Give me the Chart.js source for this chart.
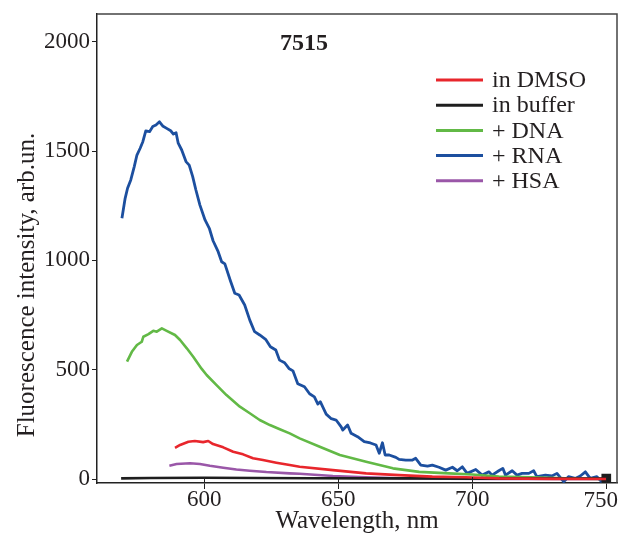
<!DOCTYPE html>
<html>
<head>
<meta charset="utf-8">
<script src="https://cdn.jsdelivr.net/npm/chart.js@4.4.1/dist/chart.umd.min.js"></script>
<style>
html,body{margin:0;padding:0;background:#fff;}
canvas{display:block;}
</style>
</head>
<body>
<canvas id="c" width="618" height="534"></canvas>
<script>
// ---- data ----
const chartTitle = "7515";
const xTitle = "Wavelength, nm";
const yTitle = "Fluorescence intensity, arb.un.";
const xTicks = [600, 650, 700, 750];
const yTicks = [0, 500, 1000, 1500, 2000];
const seriesNames = ["in DMSO", "in buffer", "+ DNA", "+ RNA", "+ HSA"];

const dmsoWl = [589.1,591.0,594.1,596.5,599.6,601.5,603.3,607.1,610.8,614.5,618.2,621.9,626.9,631.9,635.6,648,660.4,672.7,685.1,697.5,710,730,750];
const dmsoVal = [143,156,171,174,169,174,160,145,125,113,95,87,75,64,56,41,26,18,11,8,3,1,0];

const bufferWl = [569,580,600,620,640,660,680,700,720,740,750];
const bufferVal = [3,5,6,5,4,3,3,2,2,2,2];

const dnaWl = [571.2,573.0,574.9,576.7,577.3,579.2,581.0,582.3,584.2,586.0,589.1,591.0,593.5,595.9,599.0,600.9,604.6,608.3,613.3,617.0,620.7,624.5,628.2,631.9,635.6,643.1,650.6,660.4,670.4,680.2,691.3,700,709.9,722,734.7,749.6];
const dnaVal = [537,582,613,628,651,663,678,674,689,678,659,636,598,559,505,476,430,384,331,301,270,247,228,209,186,148,110,79,49,33,26,21,11,8,3,0];

const rnaWl = [569.3,570.5,571.4,572.6,573.9,574.9,576.1,577.1,578.2,579.6,580.8,582.0,583.3,584.5,586.0,587.5,588.5,589.5,590.3,591.6,593.2,594.4,595.7,596.9,598.4,600.3,601.9,603.3,605.2,606.5,607.7,609.8,611.4,613.0,615.1,617.0,618.8,620.7,622.9,624.7,626.7,628.1,630.0,631.6,633.1,634.9,637.4,639.3,641.1,642.4,643.3,645.5,647.4,649.2,651.1,651.7,653.5,654.8,657.2,659.7,662,664.1,665.3,666.5,667.5,669.0,671.5,672.7,675.2,677.7,678.9,680.8,683.3,685.1,687.6,690.1,692.6,694.4,696.3,698.1,701.3,703.7,706.2,707.4,709.9,711.4,712.4,714.9,716.7,718.6,721.1,722.9,724.1,727.3,729.7,731.6,734.1,735.9,738.4,740.3,742.2,744.0,746.5,748.3,750.2];
const rnaVal = [1193,1284,1330,1368,1429,1482,1513,1543,1592,1589,1612,1619,1634,1615,1604,1593,1578,1584,1536,1505,1452,1436,1383,1322,1253,1185,1147,1090,1040,994,984,906,850,842,796,727,674,659,639,605,590,544,532,506,495,436,422,390,376,343,354,297,276,270,239,224,247,209,194,171,165,156,118,166,110,110,99,90,87,87,95,64,59,64,54,41,54,38,56,26,44,18,33,18,38,49,18,38,18,26,26,38,11,18,14,26,-12,11,3,14,33,3,11,-12,14];

const hsaWl = [587.0,589.7,594.7,598.4,602.1,607.1,612.0,617,623.2,631.9,635.6,648,660.4,672.7,690,710,730,750];
const hsaVal = [61,69,72,69,61,52,44,38,32,26,24,14,8,4,2,1,0,0];

const colors = ["#e8262c", "#1e1e1e", "#62b946", "#1c4f9f", "#9a57a8"];

function pts(wl, val){ return wl.map((w,i)=>({x:w, y:val[i]})); }

const serif = "'Liberation Serif', 'DejaVu Serif', serif";
const txt = "#231f20";
const lastX = xTicks[xTicks.length - 1];

const decor = {
  id: 'decor',
  afterDraw(chart){
    const ctx = chart.ctx;
    const a = chart.chartArea;
    const xs = chart.scales.x;
    ctx.save();
    // frame top/right
    ctx.strokeStyle = "#444";
    ctx.lineWidth = 1.5;
    ctx.beginPath();
    ctx.moveTo(a.left, a.top); ctx.lineTo(a.right, a.top); ctx.lineTo(a.right, a.bottom);
    ctx.stroke();
    // inward x ticks
    ctx.strokeStyle = "#222";
    ctx.lineWidth = 1;
    xTicks.forEach(v=>{
      const px = Math.round(xs.getPixelForValue(v)) + 0.5;
      ctx.beginPath(); ctx.moveTo(px, a.bottom); ctx.lineTo(px, a.bottom - 6); ctx.stroke();
    });
    // last x tick label kept inside the canvas (as in the reference)
    ctx.fillStyle = txt;
    ctx.font = "23px " + serif;
    ctx.textAlign = "right";
    ctx.textBaseline = "top";
    ctx.fillText(String(lastX), 618, a.bottom + 6);
    // chart title
    ctx.font = "bold 24px " + serif;
    ctx.textAlign = "center";
    ctx.textBaseline = "alphabetic";
    ctx.fillText(chartTitle, 304, 50);
    // axis titles
    ctx.font = "25px " + serif;
    ctx.fillText(xTitle, (a.left + a.right)/2, 528);
    ctx.save();
    ctx.translate(34, 285);
    ctx.rotate(-Math.PI/2);
    ctx.fillText(yTitle, 0, 0);
    ctx.restore();
    // legend
    ctx.font = "24px " + serif;
    ctx.textAlign = "left";
    ctx.textBaseline = "middle";
    chart.data.datasets.forEach((ds, i)=>{
      const y = 80 + i*25.2;
      ctx.strokeStyle = ds.borderColor;
      ctx.lineWidth = 3;
      ctx.beginPath(); ctx.moveTo(436, y); ctx.lineTo(483, y); ctx.stroke();
      ctx.fillStyle = txt;
      ctx.fillText(ds.label, 492, y + 1);
    });
    ctx.restore();
  }
};

const datasets = [
  {label: seriesNames[0], data: pts(dmsoWl, dmsoVal), borderColor: colors[0], borderWidth: 2.6},
  {label: seriesNames[1], data: pts(bufferWl, bufferVal), borderColor: colors[1], borderWidth: 2.6,
   pointRadius: ctx => ctx.dataIndex === bufferWl.length-1 ? 5 : 0, pointStyle: 'rect',
   pointBackgroundColor: colors[1], pointBorderColor: colors[1]},
  {label: seriesNames[2], data: pts(dnaWl, dnaVal), borderColor: colors[2], borderWidth: 2.6},
  {label: seriesNames[3], data: pts(rnaWl, rnaVal), borderColor: colors[3], borderWidth: 2.8},
  {label: seriesNames[4], data: pts(hsaWl, hsaVal), borderColor: colors[4], borderWidth: 2.6}
];

new Chart(document.getElementById('c'), {
  type: 'line',
  data: { datasets },
  options: {
    responsive: false,
    animation: false,
    elements: { line: { tension: 0, borderJoinStyle: 'round' }, point: { radius: 0 } },
    layout: { autoPadding: false, padding: { top: 14, right: 1, left: 0, bottom: 0 } },
    plugins: { legend: { display: false }, tooltip: { enabled: false }, title: { display: false } },
    scales: {
      x: {
        type: 'linear', min: 560, max: 754,
        afterBuildTicks: s => { s.ticks = xTicks.map(v => ({value: v})); },
        afterFit: s => { s.height = 51; s.paddingLeft = 0; s.paddingRight = 0; },
        grid: { display: true, drawOnChartArea: false, drawTicks: true, tickLength: 6, color: '#222', lineWidth: 1 },
        border: { display: true, color: '#222', width: 1.5 },
        ticks: { font: { family: serif, size: 23 }, color: txt, padding: -3, maxRotation: 0, autoSkip: false,
                 callback: v => (v === lastX ? '' : String(v)) }
      },
      y: {
        type: 'linear', min: -18, max: 2127,
        afterBuildTicks: s => { s.ticks = yTicks.map(v => ({value: v})); },
        afterFit: s => { s.width = 97; s.paddingTop = 0; s.paddingBottom = 0; },
        grid: { display: true, drawOnChartArea: false, drawTicks: true, tickLength: 5, color: '#222', lineWidth: 1 },
        border: { display: true, color: '#222', width: 1.5 },
        ticks: { font: { family: serif, size: 23 }, color: txt, padding: 2, autoSkip: false,
                 callback: v => String(v) }
      }
    }
  },
  plugins: [decor]
});
</script>
</body>
</html>
